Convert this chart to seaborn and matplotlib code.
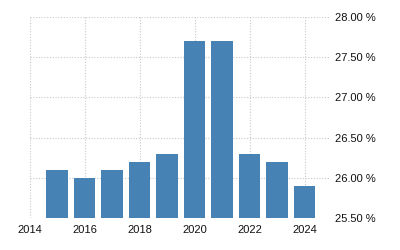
import matplotlib
matplotlib.use("Agg")
import matplotlib.pyplot as plt
import seaborn as sns
import pandas as pd
from matplotlib.ticker import FuncFormatter, MultipleLocator

years = [2015, 2016, 2017, 2018, 2019, 2020, 2021, 2022, 2023, 2024]
values = [26.1, 26.0, 26.1, 26.2, 26.3, 27.7, 27.7, 26.3, 26.2, 25.9]
xticks = [2014, 2016, 2018, 2020, 2022, 2024]

sns.set_style("white")
plt.rcParams['font.family'] = ['Liberation Sans', 'DejaVu Sans']

df = pd.DataFrame({"year": years, "value": values})

fig = plt.figure(figsize=(4, 2.5), dpi=100)
ax = fig.add_axes([0.074, 0.128, 0.751, 0.804])
sns.barplot(data=df, x="year", y="value", native_scale=True, width=0.78,
            color="#4682b4", saturation=1, linewidth=0, edgecolor="none",
            ax=ax, zorder=3)

ax.set_xlim(2014, 2024.92)
ax.set_ylim(25.5, 28.0)
ax.set_xticks(xticks)
ax.set_xticklabels([str(t) for t in xticks])
ax.yaxis.set_major_locator(MultipleLocator(0.5))
ax.yaxis.set_major_formatter(FuncFormatter(lambda v, p: f"{v:.2f} %"))
ax.yaxis.tick_right()
ax.set_xlabel("")
ax.set_ylabel("")
for s in ax.spines.values():
    s.set_visible(False)
ax.grid(True, axis="both", linestyle=(0, (1, 1.5)), color="#c8c8c8", linewidth=0.8, zorder=0)
ax.set_axisbelow(True)
ax.tick_params(axis="both", length=0, labelsize=8, colors="#111111")
ax.tick_params(axis="y", pad=3.5)
ax.tick_params(axis="x", pad=5)

fig.savefig("out.png", dpi=100)
